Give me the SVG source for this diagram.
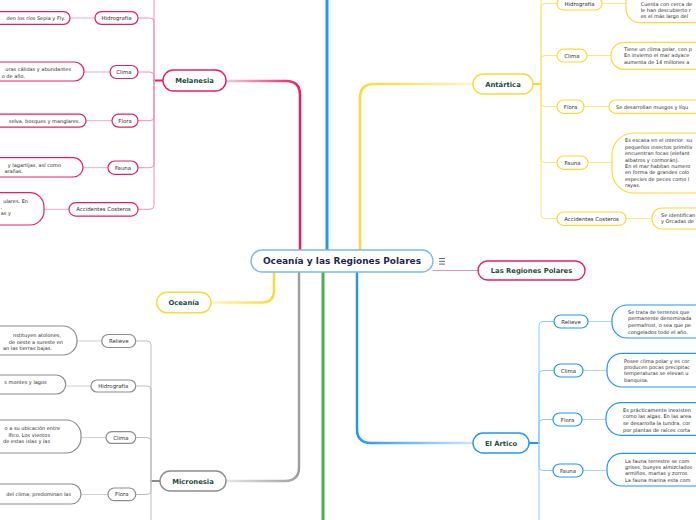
<svg xmlns="http://www.w3.org/2000/svg" width="696" height="520" viewBox="0 0 696 520">
<defs>
<style>
.bg{fill:#fff}
.t{font-family:"DejaVu Sans","Verdana",sans-serif}
.main{font-size:9px;font-weight:bold;fill:#1b2a52}
.nl{font-size:6.8px;font-weight:bold;fill:#1d4e3d}
.ll{font-size:5.4px;fill:#2b2b2b}
.bt{font-size:5px;fill:#2b2b2b}
.box{fill:#fff;stroke-width:1.2}
.nodebox{fill:#fff;stroke-width:1.4}
.pk{stroke:#e91e63}
.gy{stroke:#8c8c8c}
.yl{stroke:#fdd835}
.bl{stroke:#2196f3}
.c{fill:none;stroke-linecap:round}
.trunk{stroke-width:3}
.sub{stroke-width:1}
.leaf{stroke-width:1}
</style>
<linearGradient id="gMel" gradientUnits="userSpaceOnUse" x1="226" y1="0" x2="300" y2="0"><stop offset="0" stop-color="#fbc7d8"/><stop offset="1" stop-color="#e91e63"/></linearGradient>
<linearGradient id="gMic" gradientUnits="userSpaceOnUse" x1="226" y1="0" x2="299" y2="0"><stop offset="0" stop-color="#e6e6e6"/><stop offset="1" stop-color="#9e9e9e"/></linearGradient>
<linearGradient id="gOce" gradientUnits="userSpaceOnUse" x1="211" y1="0" x2="274" y2="0"><stop offset="0" stop-color="#fff4bd"/><stop offset="1" stop-color="#fdd835"/></linearGradient>
<linearGradient id="gAnt" gradientUnits="userSpaceOnUse" x1="473" y1="0" x2="360" y2="0"><stop offset="0" stop-color="#fff4bd"/><stop offset="1" stop-color="#fdd835"/></linearGradient>
<linearGradient id="gArt" gradientUnits="userSpaceOnUse" x1="473" y1="0" x2="357" y2="0"><stop offset="0" stop-color="#cde6fb"/><stop offset="1" stop-color="#2196f3"/></linearGradient>
</defs>
<rect class="bg" x="0" y="0" width="696" height="520"/>

<g id="connectors">
  <path class="c trunk" stroke="#2196f3" d="M327,250 V-5"/>
  <path class="c trunk" stroke="#4caf50" d="M323,272 V525"/>
  <path class="c" stroke="url(#gMel)" stroke-width="2.5" d="M300,250 V95 Q300,81 286,81 H226"/>
  <path class="c" stroke="url(#gMic)" stroke-width="2.5" d="M299,272 V467 Q299,481 285,481 H226"/>
  <path class="c" stroke="url(#gOce)" stroke-width="2.5" d="M274,272 V290 Q274,302.5 262,302.5 H211"/>
  <path class="c" stroke="url(#gAnt)" stroke-width="2.5" d="M360,250 V98 Q360,84 374,84 H473"/>
  <path class="c" stroke="url(#gArt)" stroke-width="2.5" d="M357,272 V429 Q357,443 371,443 H473"/>
  <path class="c" stroke="#f48fb1" stroke-width="1" d="M433,270.5 H478"/>

  <path class="c" stroke="#e91e63" stroke-width="2" d="M163,80.5 H154"/>
  <g class="c sub" stroke="#f48fb1">
    <path d="M154,80.5 V-30"/>
    <path d="M154,80.5 V22 Q154,18 150,18 H138"/>
    <path d="M154,80.5 V76 Q154,72 150,72 H138"/>
    <path d="M154,80.5 V116.7 Q154,120.7 150,120.7 H138"/>
    <path d="M154,80.5 V163.7 Q154,167.7 150,167.7 H138"/>
    <path d="M154,80.5 V205.3 Q154,209.3 150,209.3 H138"/>
  </g>
  <g class="c leaf" stroke="#f7a8c4">
    <path d="M70,18 H95"/>
    <path d="M84,72 H110"/>
    <path d="M86,120.7 H112"/>
    <path d="M83,167.7 H108"/>
    <path d="M44,209.3 H69"/>
  </g>

  <path class="c" stroke="#8c8c8c" stroke-width="2" d="M160,481 H151"/>
  <g class="c sub" stroke="#bdbdbd">
    <path d="M151,481 V530"/>
    <path d="M151,481 V345 Q151,341 147,341 H135.7"/>
    <path d="M151,481 V390 Q151,386 147,386 H135.7"/>
    <path d="M151,481 V441.5 Q151,437.5 147,437.5 H135.7"/>
    <path d="M151,481 V490.5 Q151,494.5 147,494.5 H135.7"/>
  </g>
  <g class="c leaf" stroke="#cfcfcf">
    <path d="M77,341 H101.7"/>
    <path d="M65.7,386 H91"/>
    <path d="M81,437.5 H106"/>
    <path d="M81,494.5 H108"/>
  </g>

  <path class="c" stroke="#fdd835" stroke-width="2" d="M533,84 H541"/>
  <g class="c sub" stroke="#fde27a">
    <path d="M541,84 V-30"/>
    <path d="M541,84 V7.5 Q541,3.5 545,3.5 H557"/>
    <path d="M541,84 V59.5 Q541,55.5 545,55.5 H557"/>
    <path d="M541,84 V102.5 Q541,106.5 545,106.5 H557"/>
    <path d="M541,84 V158.5 Q541,162.5 545,162.5 H557"/>
    <path d="M541,84 V214.5 Q541,218.5 545,218.5 H557"/>
  </g>
  <g class="c leaf" stroke="#fde68a">
    <path d="M602,3.5 H626"/>
    <path d="M587,55.5 H611"/>
    <path d="M584,106.5 H609"/>
    <path d="M588,162.5 H612"/>
    <path d="M626,218.5 H652"/>
  </g>

  <path class="c" stroke="#2196f3" stroke-width="2" d="M529,443 H539"/>
  <g class="c sub" stroke="#90caf9">
    <path d="M539,443 V530"/>
    <path d="M539,443 V325.5 Q539,321.5 543,321.5 H554"/>
    <path d="M539,443 V374.5 Q539,370.5 543,370.5 H554"/>
    <path d="M539,443 V423.5 Q539,419.5 543,419.5 H553"/>
    <path d="M539,443 V466.5 Q539,470.5 543,470.5 H553"/>
  </g>
  <g class="c leaf" stroke="#a9d4f7">
    <path d="M588,321.5 H612"/>
    <path d="M583,370.5 H607"/>
    <path d="M582,419.5 H606"/>
    <path d="M583,470.5 H607"/>
  </g>
</g>

<g id="central">
  <rect class="nodebox" stroke="#7cb9e8" x="251" y="250" width="182" height="22" rx="11"/>
  <text class="t main" x="342" y="264.2" text-anchor="middle">Oceanía y las Regiones Polares</text>
</g>
<g id="notes-icon" stroke="#555" stroke-width="0.9">
  <line x1="439" y1="258.5" x2="445" y2="258.5"/>
  <line x1="439" y1="261.3" x2="445" y2="261.3"/>
  <line x1="439" y1="264.1" x2="445" y2="264.1"/>
</g>

<g id="regiones-polares">
  <rect class="nodebox pk" x="478" y="261" width="107" height="19" rx="9.5"/>
  <text class="t nl" x="531.5" y="273" text-anchor="middle">Las Regiones Polares</text>
</g>

<g id="melanesia">
  <rect class="nodebox pk" x="163" y="70" width="63" height="21" rx="10.5"/>
  <text class="t nl" x="194.5" y="83" text-anchor="middle">Melanesia</text>
</g>
<g id="mel-hidrografia">
  <rect class="box pk" x="95" y="11.7" width="43" height="12.6" rx="6.3"/>
  <text class="t ll" x="116.5" y="20" text-anchor="middle">Hidrografía</text>
</g>
<g id="mel-hidrografia-text">
  <rect class="box pk" x="-60" y="11.7" width="130" height="12.6" rx="6.3"/>
  <text class="t bt" x="65" y="19.8" text-anchor="end">den los ríos Sepia y Fly.</text>
</g>
<g id="mel-clima">
  <rect class="box pk" x="110" y="65.5" width="28" height="13" rx="6.5"/>
  <text class="t ll" x="124" y="74" text-anchor="middle">Clima</text>
</g>
<g id="mel-clima-text">
  <rect class="box pk" x="-60" y="62" width="144" height="19" rx="9.5"/>
  <text class="t bt" x="71" y="71" text-anchor="end">uras cálidas y abundantes</text>
  <text class="t bt" x="25" y="77.7" text-anchor="end">o de año.</text>
</g>
<g id="mel-flora">
  <rect class="box pk" x="112" y="114.2" width="26" height="13" rx="6.5"/>
  <text class="t ll" x="125" y="122.7" text-anchor="middle">Flora</text>
</g>
<g id="mel-flora-text">
  <rect class="box pk" x="-60" y="114.2" width="146" height="13" rx="6.5"/>
  <text class="t bt" x="80" y="122.5" text-anchor="end">selva, bosques y manglares.</text>
</g>
<g id="mel-fauna">
  <rect class="box pk" x="108" y="161" width="30" height="13.4" rx="6.7"/>
  <text class="t ll" x="123" y="169.7" text-anchor="middle">Fauna</text>
</g>
<g id="mel-fauna-text">
  <rect class="box pk" x="-60" y="157.7" width="143" height="19.3" rx="9.6"/>
  <text class="t bt" x="61" y="166.7" text-anchor="end">y lagartijas, así como</text>
  <text class="t bt" x="23" y="173.2" text-anchor="end">arañas.</text>
</g>
<g id="mel-accidentes">
  <rect class="box pk" x="69" y="202.7" width="69" height="13.4" rx="6.7"/>
  <text class="t ll" x="103.5" y="211.4" text-anchor="middle">Accidentes Costeros</text>
</g>
<g id="mel-accidentes-text">
  <rect class="box pk" x="-60" y="192.7" width="104" height="32.3" rx="14"/>
  <text class="t bt" x="28" y="202.5" text-anchor="end">ulares. En</text>
  <text class="t bt" x="2" y="209" text-anchor="end">.</text>
  <text class="t bt" x="11" y="215.2" text-anchor="end">as y</text>
</g>

<g id="micronesia">
  <rect class="nodebox gy" x="160" y="471" width="66" height="20" rx="10"/>
  <text class="t nl" x="193" y="483.5" text-anchor="middle">Micronesia</text>
</g>
<g id="mic-relieve">
  <rect class="box gy" x="101.7" y="334.5" width="34" height="13" rx="6.5"/>
  <text class="t ll" x="118.7" y="343" text-anchor="middle">Relieve</text>
</g>
<g id="mic-relieve-text">
  <rect class="box gy" x="-60" y="326" width="137" height="29" rx="14"/>
  <text class="t bt" x="61" y="337" text-anchor="end">nstituyen atolones,</text>
  <text class="t bt" x="63" y="343.7" text-anchor="end">de oeste a sureste en</text>
  <text class="t bt" x="52" y="350.4" text-anchor="end">an las tierras bajas.</text>
</g>
<g id="mic-hidrografia">
  <rect class="box gy" x="91" y="380" width="44.7" height="12" rx="6"/>
  <text class="t ll" x="113.3" y="388" text-anchor="middle">Hidrografía</text>
</g>
<g id="mic-hidrografia-text">
  <rect class="box gy" x="-60" y="375" width="125.7" height="19" rx="9.5"/>
  <text class="t bt" x="46.7" y="384" text-anchor="end">s montes y lagos</text>
</g>
<g id="mic-clima">
  <rect class="box gy" x="106" y="431.7" width="29.7" height="11.7" rx="5.8"/>
  <text class="t ll" x="120.8" y="439.5" text-anchor="middle">Clima</text>
</g>
<g id="mic-clima-text">
  <rect class="box gy" x="-60" y="420" width="141" height="33" rx="15"/>
  <text class="t bt" x="60" y="430" text-anchor="end">o a su ubicación entre</text>
  <text class="t bt" x="50" y="436.7" text-anchor="end">ífico. Los vientos</text>
  <text class="t bt" x="50" y="443" text-anchor="end">de estas islas y las</text>
</g>
<g id="mic-flora">
  <rect class="box gy" x="108" y="488" width="27.7" height="12.7" rx="6.3"/>
  <text class="t ll" x="121.8" y="496.4" text-anchor="middle">Flora</text>
</g>
<g id="mic-flora-text">
  <rect class="box gy" x="-60" y="484" width="141" height="20" rx="10"/>
  <text class="t bt" x="71" y="495.8" text-anchor="end">del clima; predominan las</text>
</g>

<g id="oceania">
  <rect class="nodebox yl" x="156.7" y="292.3" width="54.3" height="20.4" rx="10.2"/>
  <text class="t nl" x="183.8" y="305" text-anchor="middle">Oceanía</text>
</g>

<g id="antartica">
  <rect class="nodebox yl" x="473" y="74" width="60" height="20" rx="10"/>
  <text class="t nl" x="503" y="86.5" text-anchor="middle">Antártica</text>
</g>
<g id="ant-hidrografia">
  <rect class="box yl" x="557" y="-3" width="45" height="13" rx="6.5"/>
  <text class="t ll" x="579.5" y="5.5" text-anchor="middle">Hidrografía</text>
</g>
<g id="ant-hidrografia-text">
  <rect class="box yl" x="626" y="-12" width="100" height="34.7" rx="14"/>
  <text class="t bt" x="640.7" y="6.4">Cuenta con cerca de</text>
  <text class="t bt" x="640.7" y="12.4">le han descubierto r</text>
  <text class="t bt" x="640.7" y="18.4">es el más largo del</text>
</g>
<g id="ant-clima">
  <rect class="box yl" x="557" y="49.2" width="30" height="12.8" rx="6.4"/>
  <text class="t ll" x="572" y="57.5" text-anchor="middle">Clima</text>
</g>
<g id="ant-clima-text">
  <rect class="box yl" x="611" y="42.3" width="100" height="27" rx="13"/>
  <text class="t bt" x="624" y="50.7">Tiene un clima polar, con p</text>
  <text class="t bt" x="624" y="57.3">En invierno el mar adyace</text>
  <text class="t bt" x="624" y="64">aumenta de 14 millones a</text>
</g>
<g id="ant-flora">
  <rect class="box yl" x="557" y="100" width="27" height="13.3" rx="6.6"/>
  <text class="t ll" x="570.5" y="108.6" text-anchor="middle">Flora</text>
</g>
<g id="ant-flora-text">
  <rect class="box yl" x="609" y="100" width="110" height="13.3" rx="6.6"/>
  <text class="t bt" x="616" y="108.5">Se desarrollan musgos y líqu</text>
</g>
<g id="ant-fauna">
  <rect class="box yl" x="557" y="156" width="31" height="13.3" rx="6.6"/>
  <text class="t ll" x="572.5" y="164.6" text-anchor="middle">Fauna</text>
</g>
<g id="ant-fauna-text">
  <rect class="box yl" x="612" y="133" width="110" height="60" rx="22"/>
  <text class="t bt" x="625" y="142.3">Es escasa en el interior, su</text>
  <text class="t bt" x="625" y="148.8">pequeños insectos primitiv</text>
  <text class="t bt" x="625" y="155.2">encuentran focas (elefant</text>
  <text class="t bt" x="625" y="161.6">albatros y cormorán).</text>
  <text class="t bt" x="625" y="168">En el mar habitan numero</text>
  <text class="t bt" x="625" y="174.4">en forma de grandes colo</text>
  <text class="t bt" x="625" y="180.8">especies de peces como l</text>
  <text class="t bt" x="625" y="187.2">rayas.</text>
</g>
<g id="ant-accidentes">
  <rect class="box yl" x="557" y="212" width="69" height="13.3" rx="6.6"/>
  <text class="t ll" x="591.5" y="220.6" text-anchor="middle">Accidentes Costeros</text>
</g>
<g id="ant-accidentes-text">
  <rect class="box yl" x="652" y="208" width="70" height="21" rx="10"/>
  <text class="t bt" x="661" y="216.7">Se identifican</text>
  <text class="t bt" x="661" y="223.4">y Orcadas de</text>
</g>

<g id="artico">
  <rect class="nodebox bl" x="473" y="433" width="56" height="20" rx="10"/>
  <text class="t nl" x="501" y="445.5" text-anchor="middle">El Ártico</text>
</g>
<g id="art-relieve">
  <rect class="box bl" x="554" y="315" width="34" height="13" rx="6.5"/>
  <text class="t ll" x="571" y="323.5" text-anchor="middle">Relieve</text>
</g>
<g id="art-relieve-text">
  <rect class="box bl" x="612" y="305" width="110" height="33" rx="15"/>
  <text class="t bt" x="628" y="313.7">Se trata de terrenos que</text>
  <text class="t bt" x="628" y="320.4">permanente denominada</text>
  <text class="t bt" x="628" y="327">permafrost, o sea que pe</text>
  <text class="t bt" x="628" y="333.7">congelados todo el año.</text>
</g>
<g id="art-clima">
  <rect class="box bl" x="554" y="364" width="29" height="13" rx="6.5"/>
  <text class="t ll" x="568.5" y="372.5" text-anchor="middle">Clima</text>
</g>
<g id="art-clima-text">
  <rect class="box bl" x="607" y="353.3" width="110" height="33.7" rx="15"/>
  <text class="t bt" x="624" y="362.7">Posee clima polar y es cor</text>
  <text class="t bt" x="624" y="369">producen pocas precipitac</text>
  <text class="t bt" x="624" y="375.4">temperaturas se elevan u</text>
  <text class="t bt" x="624" y="381.6">banquisa.</text>
</g>
<g id="art-flora">
  <rect class="box bl" x="553" y="413" width="29" height="13" rx="6.5"/>
  <text class="t ll" x="567.5" y="421.5" text-anchor="middle">Flora</text>
</g>
<g id="art-flora-text">
  <rect class="box bl" x="606" y="402.7" width="110" height="32.6" rx="15"/>
  <text class="t bt" x="623" y="411.7">Es prácticamente inexisten</text>
  <text class="t bt" x="623" y="418.3">como las algas. En las area</text>
  <text class="t bt" x="623" y="425">se desarrolla la tundra, cor</text>
  <text class="t bt" x="623" y="431.7">por plantas de raíces corta</text>
</g>
<g id="art-fauna">
  <rect class="box bl" x="553" y="464" width="30" height="13" rx="6.5"/>
  <text class="t ll" x="568" y="472.5" text-anchor="middle">Fauna</text>
</g>
<g id="art-fauna-text">
  <rect class="box bl" x="607" y="453.3" width="110" height="32.7" rx="15"/>
  <text class="t bt" x="625" y="462.7">La fauna terrestre se com</text>
  <text class="t bt" x="625" y="469">grises, bueyes almizclados</text>
  <text class="t bt" x="625" y="475.4">armiños, martas y zorros</text>
  <text class="t bt" x="625" y="481.7">La fauna marina esta com</text>
</g>
</svg>
